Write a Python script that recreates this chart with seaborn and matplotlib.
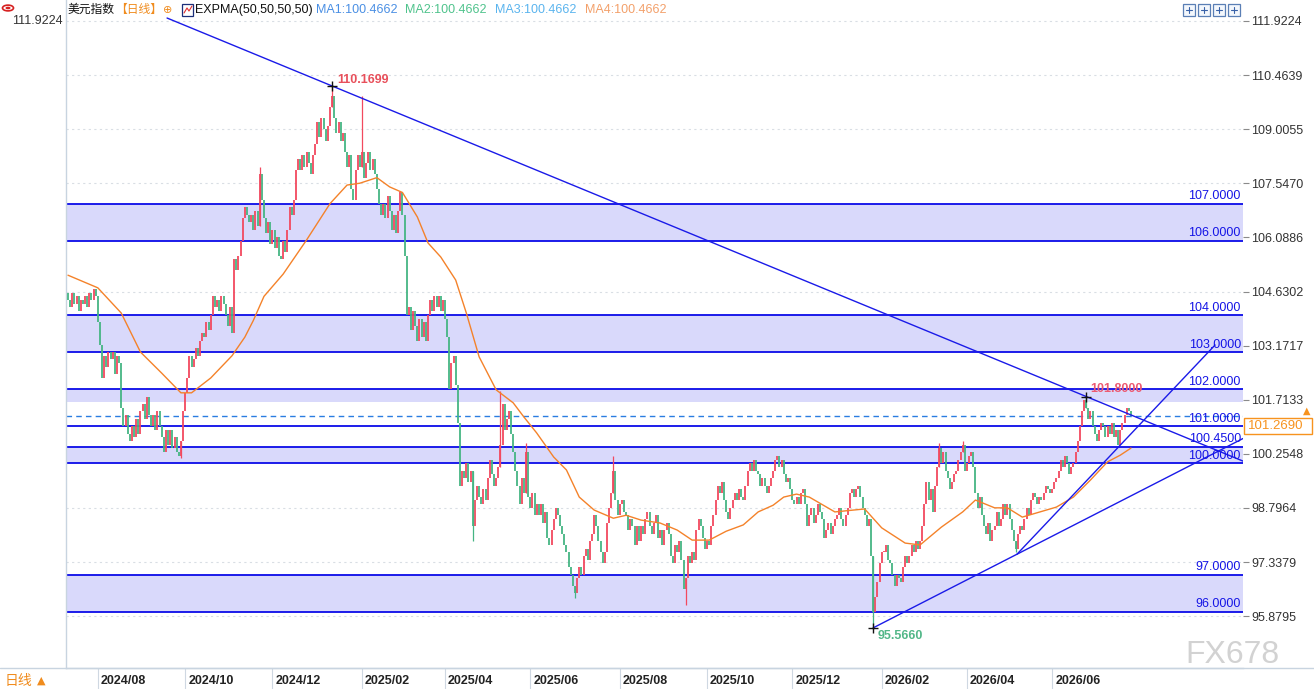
import matplotlib
matplotlib.use("Agg")
import matplotlib.pyplot as plt
import numpy as np
import seaborn as sns
from matplotlib.lines import Line2D
from matplotlib.patches import Rectangle, Circle

# daily closes (one value per candle)
close = [
    104.4, 104.2, 104.6, 104.3, 104.5, 104.1, 104.4, 104.3, 104.5, 104.2,
    104.6, 104.4, 104.7, 104.5, 103.8, 103.2, 102.3, 102.9, 102.6, 103.0,
    102.8, 103.0, 102.4, 102.9, 102.7, 101.5, 101.0, 101.3, 100.8, 100.6,
    101.0, 100.7, 101.2, 100.8, 101.4, 101.6, 101.2, 101.8, 101.3, 101.0,
    101.3, 100.9, 101.4, 101.0, 100.7, 100.3, 100.9, 100.5, 100.9, 100.4,
    100.7, 100.3, 100.2, 100.6, 101.4, 101.9, 102.3, 102.9, 102.6, 102.8,
    103.1, 102.9, 103.3, 103.5, 103.4, 103.8, 103.6, 104.0, 104.5, 104.2,
    104.4, 104.1, 104.5, 104.3, 104.0, 103.7, 104.2, 103.5, 105.5, 105.2,
    105.6, 106.0, 106.6, 106.9, 106.7, 106.5, 106.7, 106.3, 106.8, 106.4,
    107.8, 107.1, 106.6, 106.2, 106.5, 105.9, 106.3, 105.8, 106.1, 105.6,
    105.5, 106.0, 105.7, 106.3, 106.9, 106.7, 107.1, 107.9, 108.2, 107.9,
    108.3, 108.0, 108.4, 108.1, 107.8, 108.3, 108.6, 109.2, 108.8, 109.3,
    109.0, 108.7, 109.1, 109.6, 109.9, 109.3, 108.9, 109.2, 108.7, 108.9,
    108.4, 108.0, 108.3, 107.4, 107.1, 107.9, 108.3, 108.0, 108.4, 107.7,
    108.1, 108.4, 107.9, 108.2, 107.8, 107.4, 107.0, 106.7, 107.0, 106.6,
    107.2, 106.8, 106.3, 106.7, 106.2, 106.8, 107.3, 106.7, 105.6, 104.0,
    104.2, 103.6, 104.1, 103.7, 103.3, 103.9, 103.4, 103.8, 103.3, 104.0,
    104.4, 104.1, 104.5, 104.2, 104.5, 104.1, 104.4, 103.9, 103.4, 102.0,
    102.7, 102.9, 102.1, 101.1, 99.4, 99.8, 99.6, 100.0, 99.5, 99.8,
    98.3, 99.0, 99.4, 99.1, 98.9, 99.3, 99.0, 99.6, 100.1, 99.7,
    99.4, 99.6, 99.9, 100.5, 101.6, 100.9, 101.2, 101.4, 100.8, 100.3,
    99.8, 99.4, 98.9, 99.6, 99.2, 100.3, 99.1, 98.8, 99.2, 98.6,
    98.9, 98.6, 98.9, 98.4, 98.7, 98.0, 97.8, 98.2, 98.5, 98.8,
    98.6, 98.3, 98.1, 97.8, 97.6, 97.2, 97.0, 96.7, 96.5, 96.9,
    97.2, 97.0, 97.5, 97.7, 97.4, 97.9, 98.1, 98.6, 98.3, 97.9,
    97.6, 97.3, 97.6, 98.4, 98.8, 99.2, 99.8, 99.0, 98.6, 98.9,
    99.0, 98.7, 98.6, 98.2, 98.5, 98.3, 97.8, 98.3, 97.9, 98.3,
    98.1, 98.5, 98.7, 98.3, 98.1, 98.4, 98.6, 98.0, 98.2, 97.8,
    98.2, 98.4, 98.1, 97.5, 97.3, 97.8, 97.6, 97.9, 97.4, 96.6,
    96.9, 97.5, 97.3, 97.6, 97.4, 98.2, 98.5, 98.3, 98.0, 97.7,
    97.9, 97.8, 98.3, 98.6, 99.0, 99.4, 99.2, 99.5, 99.0, 98.7,
    98.5, 98.8, 99.0, 99.2, 99.0, 99.3, 99.1, 99.0, 99.4, 99.8,
    100.0, 99.8, 100.1, 99.8, 99.7, 99.4, 99.6, 99.4, 99.2, 99.4,
    99.6, 99.8, 100.1, 100.2, 99.9, 100.1, 99.7, 99.5, 99.6, 99.3,
    99.0, 98.9, 99.1, 98.9, 99.2, 99.3, 98.9, 98.3, 98.6, 98.8,
    98.4, 98.6, 98.9, 98.7, 98.5, 98.0, 98.2, 98.4, 98.1, 98.3,
    98.5, 98.6, 98.8, 98.5, 98.3, 98.6, 98.8, 99.2, 99.3, 99.1,
    99.3, 99.4, 99.1, 98.8, 98.6, 98.3, 98.5, 97.5, 96.0, 96.4,
    96.8, 97.3, 97.6, 97.6, 97.8, 97.4, 97.3, 97.0, 96.7, 97.0,
    96.9, 96.8, 97.2, 97.5, 97.3, 97.5, 97.8, 97.6, 97.9, 97.7,
    97.9, 98.3, 98.9, 99.5, 99.0, 99.3, 98.7, 99.4, 99.9, 100.4,
    100.0, 100.3, 99.8, 99.6, 99.3, 99.5, 99.7, 99.8, 100.1, 100.3,
    100.5, 99.8, 100.0, 100.2, 100.3, 99.9, 99.2, 98.8, 99.1, 98.6,
    98.3, 98.1, 98.4, 97.9, 98.2, 98.3, 98.7, 98.3, 98.5, 98.9,
    98.6, 98.9, 98.5, 98.2, 97.9, 97.7, 98.1, 98.3, 98.2, 98.5,
    98.8, 98.6, 99.0, 99.2, 99.1, 98.9, 99.1, 99.0, 99.2, 99.4,
    99.3, 99.2, 99.3, 99.5, 99.6, 99.8, 100.1, 99.9, 100.2, 100.0,
    99.7, 99.9, 100.0, 100.3, 100.6, 101.0, 101.4, 101.7, 101.5, 101.2,
    101.4, 101.0, 100.8, 100.6, 100.9, 101.1, 101.0, 100.7, 101.0, 100.8,
    101.1, 100.7, 100.9, 100.5, 100.9, 101.1, 101.3, 101.5, 101.4, 101.27,
]
first_open = 104.6

# the few long wicks that stand out
wick_idx = [53, 90, 124, 138, 190, 203, 215, 238, 256, 290, 378, 409, 420, 445, 478]
wick_val = [100.15, 108.0, 110.1699, 109.9, 97.9, 101.95, 100.55, 96.37, 100.2,
            96.18, 95.566, 100.55, 100.6, 97.6, 101.8]

# EXPMA(50) line, read at points along the curve (candle index, value)
ema_idx = [0, 14, 25, 34, 44, 53, 58, 67, 77, 83, 87, 92, 101, 112, 123, 131,
           137, 145, 151, 157, 164, 169, 175, 182, 187, 193, 201, 209, 214, 220,
           228, 234, 240, 247, 256, 262, 269, 278, 286, 293, 301, 309, 317, 324,
           331, 336, 342, 348, 360, 374, 382, 393, 400, 410, 420, 426, 435, 441,
           448, 464, 472, 480, 488, 494, 499]
ema_val = [105.07, 104.73, 104.05, 103.0, 102.43, 101.9, 101.9, 102.3, 102.9, 103.4,
           103.85, 104.5, 105.1, 106.02, 107.0, 107.5, 107.55, 107.7, 107.45, 107.3,
           106.64, 105.94, 105.56, 104.94, 104.05, 102.87, 101.98, 101.63, 101.25, 100.82,
           100.17, 99.82, 99.09, 98.74, 98.52, 98.6, 98.47, 98.39, 98.2, 97.93,
           97.93, 98.17, 98.34, 98.69, 98.87, 99.09, 99.17, 99.09, 98.69, 98.77,
           98.26, 97.85, 97.8, 98.28, 98.69, 99.01, 98.8, 98.8, 98.55, 98.82,
           99.09, 99.55, 100.04, 100.22, 100.41]

level_vals = [107.0, 106.0, 104.0, 103.0, 102.0, 101.0, 100.45, 100.0, 97.0, 96.0]
band_lo = [106.0, 103.0, 101.66, 100.0, 96.0]
band_hi = [107.0, 104.0, 102.0, 100.45, 97.0]

price_ticks = [111.9224, 110.4639, 109.0055, 107.5470, 106.0886, 104.6302,
               103.1717, 101.7133, 100.2548, 98.7964, 97.3379, 95.8795]
month_idx = [14, 55, 96, 138, 177, 217, 259, 300, 340, 382, 422, 462]
month_labels = ["2024/08", "2024/10", "2024/12", "2025/02", "2025/04", "2025/06",
                "2025/08", "2025/10", "2025/12", "2026/02", "2026/04", "2026/06"]

last_price = 101.269
peak = (124, 110.1699)
retest = (478, 101.8)
bottom = (378, 95.566)
pivot = (445.5, 97.55)
steep_end = (538.5, 103.19)

UP = "#f2495f"
DOWN = "#45b583"
LEVEL = "#0b0be8"
W, H = 1314, 689


def fx(x):
    return x / W


def fy(y):
    return 1 - y / H


sns.set_theme(style="white")
plt.rcParams["font.family"] = ["Liberation Sans", "Noto Sans CJK SC", "DejaVu Sans"]

fig = plt.figure(figsize=(W / 100, H / 100), dpi=100)
ax = fig.add_axes([fx(66), 21 / H, (1243 - 66) / W, 668 / H])

xmin, xmax = -0.94, 551.6
ax.set_xlim(xmin, xmax)
ax.set_ylim(94.483, 112.488)

# grid + bands + levels
for v in price_ticks:
    ax.axhline(v, color="#d9dee4", ls=(0, (2, 3)), lw=0.8, zorder=0)
for lo, hi in zip(band_lo, band_hi):
    ax.axhspan(lo, hi, color="#d9d9fb", lw=0, zorder=1)
for lv in level_vals:
    ax.axhline(lv, color=LEVEL, lw=1.3, zorder=2)
    ax.annotate(f"{lv:.4f}", xy=(1, lv), xycoords=("axes fraction", "data"),
                xytext=(-1.5, 1), textcoords="offset points", ha="right",
                va="bottom", color="#1414e6", fontsize=9, zorder=6)
ax.axhline(last_price, color="#2a7de1", ls=(0, (4, 3)), lw=1, zorder=2)

# candles
c = np.array(close)
o = np.r_[first_open, c[:-1]]
idx = np.arange(len(c))
lo = np.minimum(o, c)
hi = np.maximum(o, c)
hi = np.where(hi - lo < 0.05, lo + 0.05, hi)
up = c >= o
ax.vlines(idx[up], lo[up], hi[up], color=UP, lw=1.3, zorder=3)
ax.vlines(idx[~up], lo[~up], hi[~up], color=DOWN, lw=1.3, zorder=3)
for wi, wv in zip(wick_idx, wick_val):
    col = UP if up[wi] else DOWN
    ax.vlines(wi, min(wv, lo[wi]), max(wv, hi[wi]), color=col, lw=0.9, zorder=3)

# EXPMA
sns.lineplot(x=ema_idx, y=ema_val, ax=ax, color="#f4822a", lw=1, zorder=4)

# trend lines
s1 = (retest[1] - peak[1]) / (retest[0] - peak[0])
x1 = np.array([46.5, xmax])
ax.plot(x1, peak[1] + s1 * (x1 - peak[0]), color="#1a1ae8", lw=1, zorder=5)
s2 = (pivot[1] - bottom[1]) / (pivot[0] - bottom[0])
x2 = np.array([bottom[0], xmax])
ax.plot(x2, bottom[1] + s2 * (x2 - bottom[0]), color="#1a1ae8", lw=1, zorder=5)
ax.plot([pivot[0], steep_end[0]], [pivot[1], steep_end[1]], color="#1a1ae8", lw=1, zorder=5)

# marked extremes
for (mi, mv), col, off in [(peak, "#e8505b", (3.5, 4.3)),
                           (retest, "#ec5a72", (3, 5.5)),
                           (bottom, "#52b788", (3.5, -6))]:
    ax.plot(mi, mv, marker="+", color="#111111", ms=7, mew=1, zorder=7)
    ax.annotate(f"{mv:.4f}", xy=(mi, mv), xytext=off, textcoords="offset points",
                ha="left", va="center", color=col, fontsize=9, fontweight="bold",
                zorder=7)

# axes styling
ax.yaxis.tick_right()
ax.set_yticks(price_ticks)
ax.set_yticklabels([f"{v:.4f}" for v in price_ticks])
ax.tick_params(axis="y", right=True, length=4, width=0.8, color="#8a8a8a",
               labelsize=9, labelcolor="#333333", pad=2)
ax.set_xticks(month_idx)
ax.set_xticklabels([])
ax.tick_params(axis="x", bottom=True, length=15, width=0.8, color="#cfd8e2",
               direction="out")
for mi, lab in zip(month_idx, month_labels):
    ax.annotate(lab, xy=(mi, 0), xycoords=("data", "axes fraction"),
                xytext=(2.2, -5), textcoords="offset points", ha="left", va="top",
                fontsize=9, fontweight="bold", color="#222222")
ax.set_xlabel("")
ax.set_ylabel("")
for side in ["top", "right"]:
    ax.spines[side].set_visible(False)
ax.spines["left"].set_color("#c8d4e0")
ax.spines["bottom"].set_color("#c8d4e0")
ax.spines["left"].set_linewidth(1)
ax.spines["bottom"].set_linewidth(1)

fig.add_artist(Line2D([0, 1], [fy(668)] * 2, transform=fig.transFigure,
                      color="#c8d4e0", lw=1))

# header
fig.text(fx(63), fy(21), "111.9224", ha="right", va="center", fontsize=9, color="#333333")
hy = fy(10)
fig.text(fx(68), hy, "美元指数", ha="left", va="center", fontsize=8.5, color="#111111")
fig.text(fx(115), hy, "【日线】", ha="left", va="center", fontsize=8.5, color="#f08c1e")
fig.text(fx(163), hy, "⊕", ha="left", va="center", fontsize=8, color="#f08c1e",
         family="DejaVu Sans")
fig.add_artist(Rectangle((fx(182), fy(16)), 11 / W, 12 / H, transform=fig.transFigure,
                         fc="white", ec="#1c2f7a", lw=0.9))
fig.add_artist(Line2D([fx(184), fx(187), fx(189), fx(192)], [fy(13), fy(8), fy(11), fy(6)],
                      transform=fig.transFigure, color="#e03030", lw=0.8))
fig.text(fx(195), hy, "EXPMA(50,50,50,50)", ha="left", va="center", fontsize=9, color="#111111")
for xpos, lab, col in [(316, "MA1:100.4662", "#4a8fe4"), (405, "MA2:100.4662", "#4fc38c"),
                       (495, "MA3:100.4662", "#5ab4ee"), (585, "MA4:100.4662", "#f3a06a")]:
    fig.text(fx(xpos), hy, lab, ha="left", va="center", fontsize=9, color=col)

# top-left icon
fig.add_artist(Circle((fx(8), fy(8)), 5.5 / W, transform=fig.transFigure,
                      fc="white", ec="#d62020", lw=1.2))
fig.add_artist(Circle((fx(8), fy(8)), 2.5 / W, transform=fig.transFigure,
                      fc="#d62020", ec="none"))

# top-right toolbar squares
for x0 in [1183, 1198, 1213, 1228]:
    fig.add_artist(Rectangle((fx(x0), fy(16)), 12 / W, 12 / H, transform=fig.transFigure,
                             fc="#f3f7fc", ec="#5a7fb5", lw=0.9))
    fig.add_artist(Line2D([fx(x0 + 3), fx(x0 + 9)], [fy(10), fy(10)],
                          transform=fig.transFigure, color="#3a62a8", lw=0.8))
    fig.add_artist(Line2D([fx(x0 + 6), fx(x0 + 6)], [fy(7), fy(13)],
                          transform=fig.transFigure, color="#3a62a8", lw=0.8))

# last price box
fig.add_artist(Rectangle((fx(1244), fy(434)), 68 / W, 16 / H, transform=fig.transFigure,
                         fc="white", ec="#f7931e", lw=1))
fig.text(fx(1248), fy(426), f"{last_price:.4f}", ha="left", va="center",
         fontsize=9.5, color="#f7931e")
fig.text(fx(1307), fy(411), "▲", ha="center", va="center", fontsize=7, color="#f7931e",
         family="DejaVu Sans")

# bottom-left and watermark
fig.text(fx(5), fy(681), "日线", ha="left", va="center", fontsize=10, color="#f08c1e")
fig.text(fx(37), fy(681), "▲", ha="left", va="center", fontsize=8, color="#f08c1e",
         family="DejaVu Sans")
fig.text(fx(1185), fy(655), "FX678", ha="left", va="center", fontsize=23,
         color="#d2d2d2")

fig.savefig("out.png", dpi=100)
